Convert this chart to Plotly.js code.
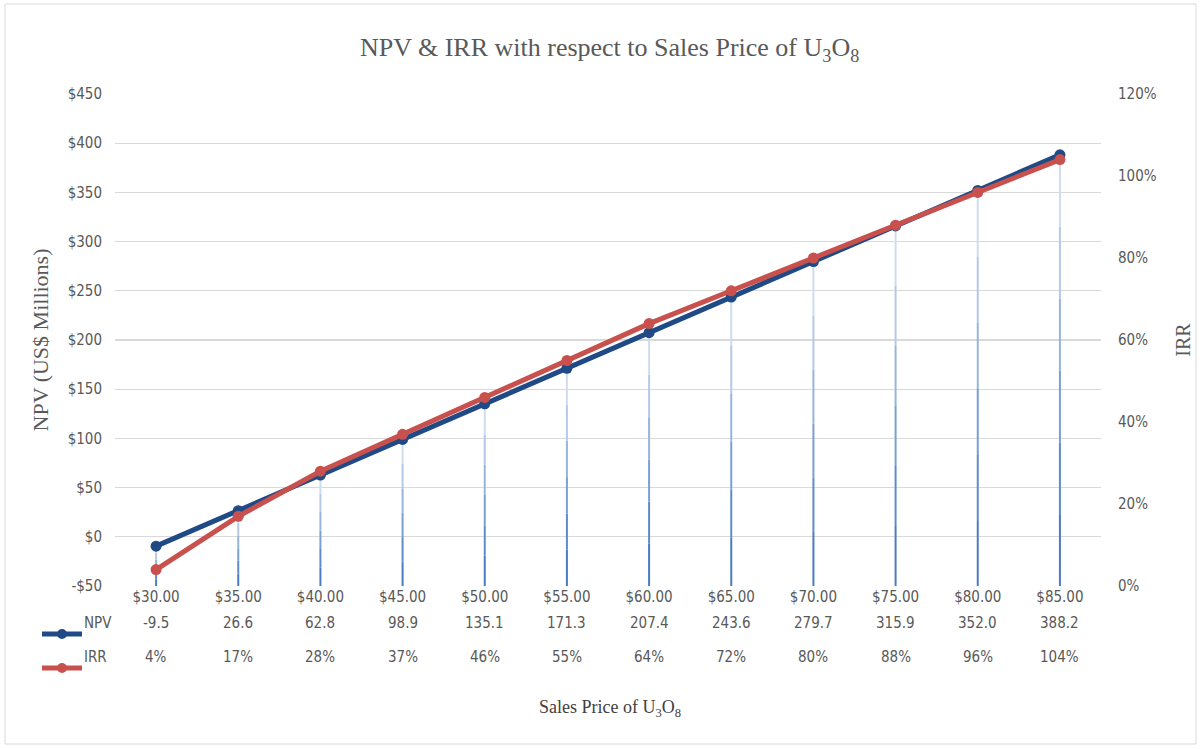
<!DOCTYPE html>
<html><head><meta charset="utf-8">
<script src="https://cdn.plot.ly/plotly-3.0.1.min.js"></script>
<style>html,body{margin:0;padding:0;background:#fff}#chart{width:1200px;height:749px}</style>
</head><body><div id="chart"></div>
<script>
const categories = ["$30.00","$35.00","$40.00","$45.00","$50.00","$55.00","$60.00","$65.00","$70.00","$75.00","$80.00","$85.00"];
const npv = [-9.5, 26.6, 62.8, 98.9, 135.1, 171.3, 207.4, 243.6, 279.7, 315.9, 352.0, 388.2];
const irr = [4, 17, 28, 37, 46, 55, 64, 72, 80, 88, 96, 104];
const npvLabels = ["-9.5","26.6","62.8","98.9","135.1","171.3","207.4","243.6","279.7","315.9","352.0","388.2"];
const irrLabels = ["4%","17%","28%","37%","46%","55%","64%","72%","80%","88%","96%","104%"];
const yTickVals = [-50,0,50,100,150,200,250,300,350,400,450];
const yTickText = ["-$50","$0","$50","$100","$150","$200","$250","$300","$350","$400","$450"];
const y2TickVals = [0,20,40,60,80,100,120];
const y2TickText = ["0%","20%","40%","60%","80%","100%","120%"];

const W=1200,H=749,L=115,R=99,T=94,B=163;
const pw=W-L-R, ph=H-T-B;
const px = v => (v-L)/pw;
const py = v => (H-B-v)/ph;
const yMin = -50;

const tickFont = {family:"DejaVu Sans Condensed, Liberation Sans Narrow, Lato, sans-serif", size:15, color:"#595959"};
const serif = "Liberation Serif, Times New Roman, serif";

// drop lines: gradient from light (top) to mid blue (bottom), drawn as stacked segments
const dropColors = ["#4a7cc4","#5f8bcb","#7a9fd5","#97b4df","#b4c9e8","#cfdcf0"];
const traces = [];
const nSeg = dropColors.length;
dropColors.forEach((c,k)=>{
  const xs=[], ys=[];
  categories.forEach((cat,i)=>{
    const span = npv[i]-yMin;
    xs.push(cat, cat, null);
    ys.push(yMin + span*k/nSeg, yMin + span*(k+1)/nSeg, null);
  });
  traces.push({x:xs, y:ys, type:"scatter", mode:"lines", line:{color:c, width:2}, hoverinfo:"skip", showlegend:false, connectgaps:false});
});
traces.push({x:categories, y:npv, name:"NPV", type:"scatter", mode:"lines+markers",
  line:{color:"#1f4a85", width:5}, marker:{color:"#1f4a85", size:11}, showlegend:false});
traces.push({x:categories, y:irr, name:"IRR", type:"scatter", mode:"lines+markers", yaxis:"y2",
  line:{color:"#c8504d", width:5}, marker:{color:"#c8504d", size:11}, showlegend:false});

const annotations = [];
const rowY1 = py(634), rowY2 = py(668);
categories.forEach((c,i)=>{
  annotations.push({x:c, xref:"x", y:rowY1, yref:"paper", text:npvLabels[i], showarrow:false, font:tickFont});
  annotations.push({x:c, xref:"x", y:rowY2, yref:"paper", text:irrLabels[i], showarrow:false, font:tickFont});
});
annotations.push({x:px(82), xref:"paper", y:rowY1, yref:"paper", text:"NPV", xanchor:"left", showarrow:false, font:tickFont});
annotations.push({x:px(82), xref:"paper", y:rowY2, yref:"paper", text:"IRR", xanchor:"left", showarrow:false, font:tickFont});
annotations.push({x:px(610), xref:"paper", y:py(722), yref:"paper", text:"Sales Price of U<sub>3</sub>O<sub>8</sub>", showarrow:false, font:{family:serif, size:18, color:"#404040"}});

const shapes = [
  {type:"line", xref:"paper", yref:"paper", x0:px(42), x1:px(82), y0:rowY1, y1:rowY1, line:{color:"#1f4a85", width:5}},
  {type:"circle", xref:"paper", yref:"paper", x0:px(57), x1:px(67), y0:py(629), y1:py(639), fillcolor:"#1f4a85", line:{color:"#1f4a85", width:0}},
  {type:"line", xref:"paper", yref:"paper", x0:px(42), x1:px(82), y0:rowY2, y1:rowY2, line:{color:"#c8504d", width:5}},
  {type:"circle", xref:"paper", yref:"paper", x0:px(57), x1:px(67), y0:py(663), y1:py(673), fillcolor:"#c8504d", line:{color:"#c8504d", width:0}},
  {type:"rect", xref:"paper", yref:"paper", x0:px(5), x1:px(1196), y0:py(744), y1:py(4), line:{color:"#d9d9d9", width:1}, layer:"below"}
];

const layout = {
  width:W, height:H, margin:{l:L, r:R, t:T, b:B}, paper_bgcolor:"#fff", plot_bgcolor:"#fff",
  title:{text:"NPV & IRR with respect to Sales Price of U<sub>3</sub>O<sub>8</sub>", font:{family:serif, size:26, color:"#595959"}, x:0.508, xanchor:"center", y:1-47/H, yanchor:"middle"},
  xaxis:{type:"category", categoryarray:categories, range:[-0.5,11.5], showgrid:false, zeroline:false, showline:false, ticks:"", tickfont:tickFont, fixedrange:true},
  yaxis:{range:[-50,450], tickvals:yTickVals, ticktext:yTickText, showgrid:true, gridcolor:"#d9d9d9", gridwidth:1.3, zeroline:false, showline:false, tickfont:tickFont, ticklabelstandoff:12,
    title:{text:"NPV (US$ Millions)", font:{family:serif, size:22, color:"#595959"}, standoff:12}},
  yaxis2:{range:[0,120], overlaying:"y", side:"right", tickvals:y2TickVals, ticktext:y2TickText, showgrid:false, zeroline:false, showline:false, tickfont:tickFont, ticklabelstandoff:16,
    title:{text:"IRR", font:{family:serif, size:20, color:"#595959"}, standoff:20}},
  annotations, shapes, showlegend:false
};
Plotly.newPlot("chart", traces, layout, {staticPlot:true});
</script></body></html>
